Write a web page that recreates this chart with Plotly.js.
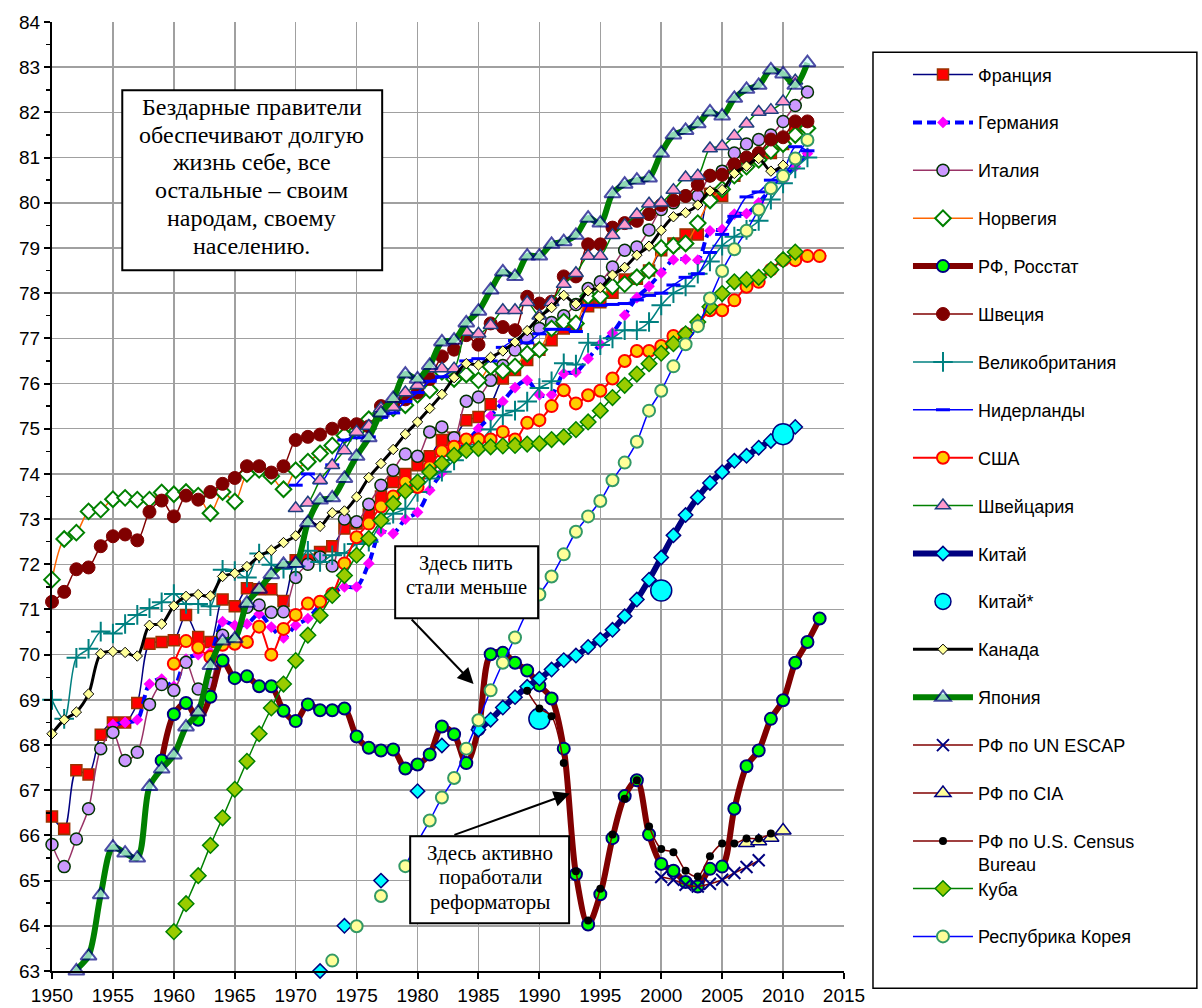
<!DOCTYPE html>
<html><head><meta charset="utf-8">
<script src="https://cdn.plot.ly/plotly-3.0.1.min.js"></script>
<style>html,body{margin:0;padding:0;background:#fff}#chart{width:1202px;height:1008px}</style>
</head><body><div id="chart"></div>
<script>
const years = [1950,1951,1952,1953,1954,1955,1956,1957,1958,1959,1960,1961,1962,1963,1964,1965,1966,1967,1968,1969,
1970,1971,1972,1973,1974,1975,1976,1977,1978,1979,1980,1981,1982,1983,1984,1985,1986,1987,1988,1989,
1990,1991,1992,1993,1994,1995,1996,1997,1998,1999,2000,2001,2002,2003,2004,2005,2006,2007,2008,2009,
2010,2011,2012,2013];
const xTickVals = [1950,1955,1960,1965,1970,1975,1980,1985,1990,1995,2000,2005,2010,2015];
const xTickText = ['1950','1955','1960','1965','1970','1975','1980','1985','1990','1995','2000','2005','2010','2015'];
const yTickVals = [63,64,65,66,67,68,69,70,71,72,73,74,75,76,77,78,79,80,81,82,83,84];

const franceStart = 1950;
const france = [66.42,66.15,67.44,67.35,68.23,68.5,68.5,68.93,70.24,70.28,
70.32,70.88,70.39,70.28,71.22,71.07,71.47,71.45,71.45,71.19,
72.09,72.1,72.27,72.4,72.79,72.9,73.1,73.5,73.82,74.0,
74.19,74.39,74.75,74.8,75.19,75.26,75.54,76.11,76.3,76.52,
76.75,76.96,77.22,77.3,77.71,77.8,78.01,78.3,78.32,78.5,
78.95,79.1,79.3,79.3,80.2,80.15,80.6,80.9,81.0,81.1,
81.3,81.65];

const germanyStart = 1955;
const germany = [68.45,68.5,68.56,69.35,69.46,
69.3,69.9,70.0,70.05,70.73,70.65,70.68,70.9,70.61,70.37,
70.65,70.8,71.1,71.35,71.5,71.5,72.02,72.72,72.68,73.0,
73.15,73.64,74.03,74.4,74.7,75.0,75.28,75.6,75.91,76.07,
75.75,75.75,76.22,76.25,76.55,76.87,77.12,77.51,77.9,78.15,
78.45,78.74,78.75,78.73,79.38,79.41,79.75,79.76,80.0,80.3,
80.5,80.8,81.09];

const italyStart = 1950;
const italy = [65.8,65.31,65.92,66.59,67.92,68.28,67.66,67.84,68.9,69.34,
69.21,69.83,69.24,69.37,70.43,70.3,71.05,71.1,70.94,70.95,
71.71,72.0,72.16,71.96,73.0,72.94,73.33,73.75,74.08,74.44,
74.39,74.93,75.04,74.8,75.61,75.7,76.07,76.4,76.74,77.0,
77.22,77.35,77.5,77.75,78.1,78.25,78.58,78.95,79.02,79.4,
79.85,80.0,80.15,80.15,80.6,80.7,81.1,81.3,81.4,81.5,
81.8,82.15,82.45];

const norwayStart = 1950;
const norway = [71.66,72.56,72.7,73.17,73.21,73.44,73.47,73.43,73.43,73.59,
73.55,73.6,73.52,73.13,73.6,73.39,74.0,74.09,73.95,73.66,
74.08,74.27,74.45,74.63,74.85,74.95,75.21,75.35,75.45,75.52,
75.75,75.85,76.26,76.1,76.2,76.07,76.37,76.28,76.38,76.66,
76.75,77.22,77.37,77.33,77.93,77.93,78.15,78.2,78.35,78.5,
79.0,79.05,79.1,79.55,80.05,80.3,80.6,80.8,80.95,81.15,
81.3,81.5,81.65];

const rosstatStart = 1959;
const rosstat = [67.66,
68.68,68.93,68.56,69.07,69.87,69.48,69.52,69.3,69.3,68.76,
68.53,68.9,68.77,68.77,68.81,68.19,67.94,67.88,67.9,67.48,
67.57,67.79,68.41,68.24,67.6,68.35,70.01,70.04,69.82,69.65,
69.32,69.03,67.92,65.14,64.03,64.7,65.94,66.87,67.22,66.02,
65.37,65.22,64.97,64.87,65.26,65.31,66.59,67.53,67.88,68.58,
68.99,69.82,70.28,70.8];

const swedenStart = 1950;
const sweden = [71.17,71.39,71.89,71.93,72.4,72.62,72.66,72.53,73.16,73.41,
73.06,73.52,73.43,73.6,73.78,73.91,74.17,74.17,74.03,74.17,
74.75,74.82,74.87,75.0,75.11,75.1,75.05,75.5,75.55,75.65,
75.8,76.1,76.6,76.75,77.07,76.86,77.33,77.25,77.18,77.92,
77.77,77.81,78.37,78.37,79.08,79.08,79.45,79.55,79.6,79.75,
79.95,80.05,80.15,80.4,80.6,80.62,80.85,81.0,81.1,81.4,
81.45,81.8,81.8];

const ukStart = 1950;
const uk = [69.0,68.58,69.93,70.13,70.51,70.47,70.68,70.88,71.03,71.16,
71.34,71.12,71.12,71.07,71.88,71.85,71.71,72.24,71.99,71.9,
71.95,72.3,72.05,72.2,72.25,72.45,72.5,72.9,73.12,73.23,
73.6,73.9,74.05,74.3,74.6,74.7,74.98,75.3,75.4,75.6,
75.9,76.05,76.45,76.42,76.9,76.85,77.0,77.18,77.18,77.36,
77.73,78.0,78.15,78.43,78.7,79.05,79.25,79.4,79.6,80.07,
80.43,80.76,81.0];

const netherlandsStart = 1970;
const netherlands = [73.75,74.0,73.8,74.2,74.75,74.8,74.82,75.25,75.35,75.6,
75.8,76.05,76.15,76.3,76.5,76.55,76.5,76.8,76.95,76.9,
77.1,77.2,77.2,77.15,77.73,77.73,77.75,77.77,77.85,77.95,
78.0,78.18,78.35,78.43,78.9,79.3,79.7,80.13,80.24,80.5,
80.7,81.24,81.15];

const usaStart = 1960;
const usa = [69.8,70.3,70.16,69.95,70.22,70.24,70.28,70.62,70.0,70.57,
70.88,71.13,71.17,71.35,72.02,72.6,72.9,73.28,73.5,73.82,
73.71,74.15,74.5,74.6,74.76,74.76,74.76,74.93,74.76,75.13,
75.19,75.5,75.85,75.56,75.74,75.84,76.11,76.5,76.72,76.72,
76.83,77.05,77.1,77.3,77.62,77.62,77.84,78.14,78.25,78.52,
78.73,78.73,78.82,78.82];

const swissStart = 1970;
const swiss = [73.24,73.36,73.86,74.19,74.52,74.93,75.06,75.45,75.48,75.8,
75.96,76.33,76.33,76.33,77.14,77.1,77.29,77.62,77.62,77.8,
77.5,77.8,78.2,78.44,78.82,78.82,79.28,79.5,79.74,79.98,
80.0,80.28,80.56,80.6,81.2,81.25,81.48,81.75,82.01,82.05,
82.24,82.7];

const chinaStart = 1972;
const china = [63.0,null,64.0,null,null,65.0,null,null,66.98,null,
67.99,null,null,68.34,68.56,68.83,69.06,69.29,69.47,69.67,
69.88,69.98,70.17,70.33,70.55,70.85,71.22,71.66,72.15,72.64,
73.09,73.48,73.8,74.04,74.29,74.4,74.58,74.73,74.87,75.04];

const chinaStarYears = [1990,2000,2010];
const chinaStar = [68.58,71.42,74.88];

const canadaStart = 1950;
const canada = [68.25,68.56,68.73,69.13,70.02,70.07,70.05,69.97,70.65,70.68,
71.08,71.29,71.33,71.3,71.73,71.8,71.95,72.18,72.31,72.48,
72.63,72.95,72.84,73.14,73.18,73.49,73.92,74.23,74.54,74.88,
75.15,75.45,75.76,76.13,76.44,76.41,76.58,76.72,76.92,77.17,
77.47,77.68,77.95,77.76,78.05,78.12,78.4,78.57,78.84,79.04,
79.39,79.69,79.78,79.95,80.26,80.29,80.65,80.81,80.98,80.7,
80.83];

const japanStart = 1951;
const japan = [61.5,63.0,63.33,64.69,65.74,65.61,65.5,67.08,67.47,
67.78,68.4,68.73,69.76,70.3,70.35,71.14,71.45,71.77,72.0,
72.02,72.92,73.42,73.47,73.9,74.39,74.8,75.35,75.67,76.21,
76.1,76.4,76.92,76.96,77.34,77.6,78.07,78.47,78.37,78.82,
78.82,79.08,79.14,79.28,79.66,79.55,80.2,80.41,80.5,80.55,
81.1,81.5,81.6,81.75,82.01,81.92,82.31,82.51,82.6,82.94,
82.85,82.6,83.1];

const escapStart = 2000;
const escap = [65.08,65.02,64.91,64.87,64.93,65.02,65.17,65.3,65.45];

const ciaStart = 2007;
const cia = [65.83,65.87,65.95,66.11];

const censusStart = 1989;
const census = [69.2,68.81,68.64,67.6,65.21,64.12,64.82,66.02,66.81,67.22,
66.2,65.7,65.63,65.22,65.09,65.54,65.82,65.82,65.93,65.93,66.04];

const cubaStart = 1960;
const cuba = [63.87,64.49,65.11,65.78,66.39,67.02,67.64,68.25,68.82,69.35,
69.87,70.43,70.87,71.31,71.75,72.2,72.57,72.97,73.34,73.62,
73.82,74.04,74.23,74.41,74.52,74.56,74.6,74.62,74.63,74.66,
74.67,74.76,74.82,74.98,75.15,75.4,75.69,75.96,76.21,76.44,
76.67,76.88,77.1,77.36,77.7,77.99,78.25,78.3,78.35,78.52,
78.74,78.91];

const koreaStart = 1973;
const korea = [63.23,null,63.99,null,64.66,null,65.32,65.85,66.33,66.84,
67.27,67.92,68.55,69.21,69.82,70.38,70.95,71.33,71.73,72.22,
72.72,73.06,73.4,73.86,74.25,74.71,75.4,75.84,76.38,76.87,
77.27,77.88,78.49,78.97,79.38,79.85,80.32,80.59,80.98,81.39];

const note1Lines = ['Бездарные правители','обеспечивают долгую','жизнь себе, все','остальные – своим','народам, своему','населению.'];
const note2Lines = ['Здесь пить','стали меньше'];
const note3Lines = ['Здесь активно','поработали','реформаторы'];

function xs(start, arr){ const i = years.indexOf(start); return years.slice(i, i + arr.length); }
const SM = 0.9;
function tr(name, start, vals, line, marker, extra){
  return Object.assign({
    type:'scatter', mode:'lines+markers', name:name, legendgroup:name,
    x: xs(start, vals), y: vals, connectgaps:false, cliponaxis:false,
    line: Object.assign({shape:'spline', smoothing:SM}, line),
    marker: marker
  }, extra || {});
}

const traces = [
  tr('Франция', franceStart, france, {color:'#000080', width:1.5},
     {symbol:'square', size:11, color:'#FF0000', line:{color:'#993300', width:1.5}}),
  tr('Германия', germanyStart, germany, {color:'#0000FF', width:4, dash:'9px,5px'},
     {symbol:'diamond', size:9, color:'#FF00FF', line:{width:0}}),
  tr('Италия', italyStart, italy, {color:'#993366', width:1.5},
     {symbol:'circle', size:12, color:'#CC99FF', line:{color:'#003300', width:1.5}}),
  tr('Норвегия', norwayStart, norway, {color:'#FF6600', width:1.5},
     {symbol:'diamond', size:12, color:'#FFFFFF', line:{color:'#008000', width:2}}),
  tr('РФ, Росстат', rosstatStart, rosstat, {color:'#800000', width:6},
     {symbol:'circle', size:12, color:'#00FF00', line:{color:'#000080', width:2}}),
  tr('Швеция', swedenStart, sweden, {color:'#800000', width:1.5},
     {symbol:'circle', size:13, color:'#800000', line:{color:'#800000', width:1}}),
  tr('Великобритания', ukStart, uk, {color:'#008080', width:1.5},
     {symbol:'cross-thin', size:14, color:'#008080', line:{color:'#008080', width:2}}),
  tr('Нидерланды', netherlandsStart, netherlands, {color:'#0000FF', width:1.5},
     {symbol:'line-ew', size:10, color:'#0000FF', line:{color:'#0000FF', width:3}}),
  tr('США', usaStart, usa, {color:'#FF0000', width:2},
     {symbol:'circle', size:12, color:'#FFCC00', line:{color:'#FF0000', width:2}}),
  tr('Швейцария', swissStart, swiss, {color:'#008000', width:1.5},
     {symbol:'triangle-up', size:13, color:'#FF99CC', line:{color:'#1F3F7F', width:1.5}}),
  tr('Китай', chinaStart, china, {color:'#000080', width:6},
     {symbol:'diamond', size:11, color:'#00FFFF', line:{color:'#000080', width:1.5}}),
  {type:'scatter', mode:'markers', name:'Китай*', legendgroup:'Китай*', x:chinaStarYears, y:chinaStar, cliponaxis:false,
     marker:{symbol:'circle', size:21, color:'#00FFFF', line:{color:'#000080', width:1.5}}},
  tr('Канада', canadaStart, canada, {color:'#000000', width:3},
     {symbol:'diamond', size:8, color:'#FFFF99', line:{color:'#000000', width:1}}),
  tr('Япония', japanStart, japan, {color:'#008000', width:6},
     {symbol:'triangle-up', size:japan.map((v,i)=> i===0 ? 0 : 14), color:'#CCFFFF', line:{color:'#000080', width:2}}),
  tr('РФ по UN ESCAP', escapStart, escap, {color:'#800000', width:1.5},
     {symbol:'x-thin', size:12, color:'#000080', line:{color:'#000080', width:2}}),
  tr('РФ по CIA', ciaStart, cia, {color:'#800000', width:1.5},
     {symbol:'triangle-up', size:14, color:'#FFFF99', line:{color:'#000080', width:1.5}}),
  tr('РФ по U.S. Census<br>Bureau', censusStart, census, {color:'#800000', width:1.5},
     {symbol:'circle', size:8, color:'#000000', line:{width:0}}),
  tr('Куба', cubaStart, cuba, {color:'#008000', width:1.5},
     {symbol:'diamond', size:12, color:'#99CC00', line:{color:'#008000', width:1.5}}, {legend:'legend2'}),
  tr('Респубрика Корея', koreaStart, korea, {color:'#0000FF', width:1.5},
     {symbol:'circle', size:12, color:'#FFFF99', line:{color:'#339966', width:2}}, {legend:'legend2'})
];

const serif = 'Liberation Serif, Times New Roman, serif';
const sans = 'Liberation Sans, Arial, sans-serif';

// pixel -> paper helpers for the plot area (x: 51.7..844, y: 970.7..22)
const PX0 = 51.7, PW = 792.3, PY0 = 970.7, PH = 949;
const px = v => (v - PX0) / PW;
const py = v => (PY0 - v) / PH;

function lineNotes(lines, cx, ys, size){
  return lines.map((t, i) => ({xref:'paper', yref:'paper', x:px(cx), y:py(ys[i]), xanchor:'center', yanchor:'middle',
    text:t, showarrow:false, font:{family:serif, size:size, color:'#000'}}));
}
function box(x0, x1, y0, y1, w){
  return {type:'rect', xref:'paper', yref:'paper', x0:px(x0), x1:px(x1), y0:py(y1), y1:py(y0),
    line:{color:'#000', width:w}, fillcolor:'#ffffff', layer:'above'};
}

const legendCommon = {xanchor:'left', yanchor:'top', bgcolor:'rgba(0,0,0,0)', borderwidth:0,
  font:{family:sans, size:18, color:'#000'}, traceorder:'grouped', tracegroupgap:21.5, itemwidth:60, valign:'top',
  itemsizing:'trace'};

const layout = {
  width:1202, height:1008,
  margin:{l:52, r:358, t:22, b:37},
  paper_bgcolor:'#ffffff', plot_bgcolor:'#ffffff',
  font:{family:sans, color:'#000'},
  showlegend:true,
  xaxis:{range:[1950,2015], tickvals:xTickVals, ticktext:xTickText, showgrid:true, gridcolor:'#a0a0a0', gridwidth:1.5,
         showline:true, linecolor:'#000', linewidth:2, ticks:'outside', ticklen:6, tickwidth:2, tickcolor:'#000',
         tickfont:{size:19, family:sans}, zeroline:false, fixedrange:true},
  yaxis:{range:[63,84], tickvals:yTickVals, showgrid:true, gridcolor:'#a0a0a0', gridwidth:1.5,
         showline:true, linecolor:'#000', linewidth:2, ticks:'outside', ticklen:6, tickwidth:2, tickcolor:'#000',
         tickfont:{size:19, family:sans}, zeroline:false, fixedrange:true,
         minor:{dtick:0.5, ticks:'outside', ticklen:4, tickwidth:1.5, tickcolor:'#000', showgrid:false}},
  legend:Object.assign({x:px(908), y:py(56)}, legendCommon),
  legend2:Object.assign({x:px(908), y:py(870)}, legendCommon),
  shapes:[
    box(122, 382, 90, 270, 2),
    box(395, 538, 546, 618, 2),
    box(410, 569, 836, 923, 2),
    {type:'rect', xref:'paper', yref:'paper', x0:px(873), x1:px(1197), y0:py(988), y1:py(52),
     line:{color:'#000', width:1.5}, fillcolor:'rgba(0,0,0,0)', layer:'below'}
  ],
  annotations:[
    {xref:'x', yref:'y', axref:'x', ayref:'y', x:1984.6, y:69.35, ax:1979.4, ay:70.81, text:'', showarrow:true,
     arrowhead:2, arrowsize:1.6, arrowwidth:2, arrowcolor:'#000', standoff:0},
    {xref:'x', yref:'y', axref:'x', ayref:'y', x:1992.5, y:66.93, ax:1982.9, ay:66.0, text:'', showarrow:true,
     arrowhead:2, arrowsize:1.6, arrowwidth:2, arrowcolor:'#000', standoff:0}
  ].concat(
    lineNotes(note1Lines, 251.7, [106.7, 134.4, 162.1, 189.8, 217.5, 245.2], 24),
    lineNotes(note2Lines, 466.3, [563.3, 586.7], 20.5),
    lineNotes(note3Lines, 490, [852.7, 876.7, 901.7], 21)
  )
};

Plotly.newPlot('chart', traces, layout, {staticPlot:true, displayModeBar:false});
</script>
</body></html>
